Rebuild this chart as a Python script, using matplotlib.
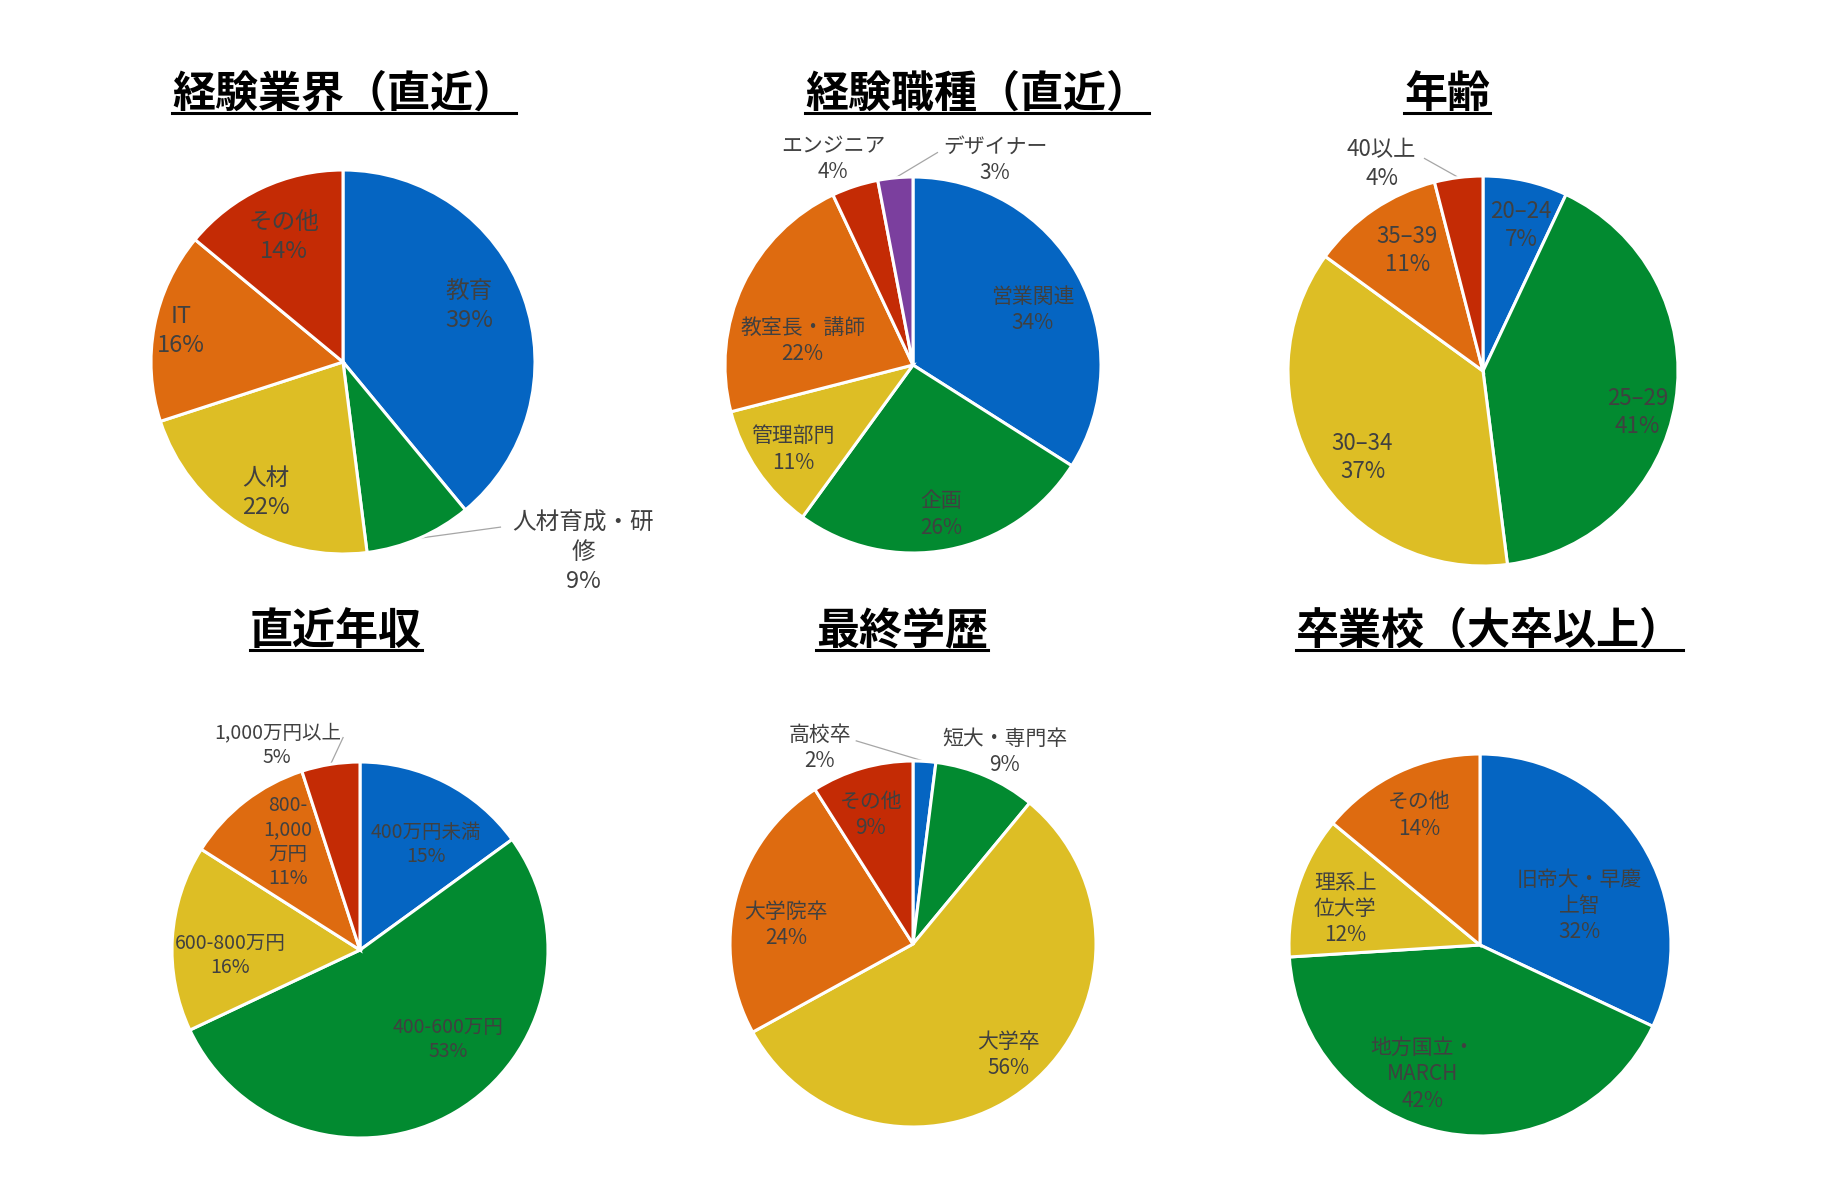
import numpy as np
import matplotlib
matplotlib.use("Agg")
from matplotlib import pyplot as plt

plt.rcParams['font.family'] = ['Noto Sans CJK JP', 'DejaVu Sans']

# ---- data ----
industry_labels = ['教育', '人材育成・研\n修', '人材', 'IT', 'その他']
industry_values = [39, 9, 22, 16, 14]

job_labels = ['営業関連', '企画', '管理部門', '教室長・講師', 'エンジニア', 'デザイナー']
job_values = [34, 26, 11, 22, 4, 3]

age_labels = ['20–24', '25–29', '30–34', '35–39', '40以上']
age_values = [7, 41, 37, 11, 4]

income_labels = ['400万円未満', '400-600万円', '600-800万円', '800-\n1,000\n万円', '1,000万円以上']
income_values = [15, 53, 16, 11, 5]

edu_labels = ['高校卒', '短大・専門卒', '大学卒', '大学院卒', 'その他']
edu_values = [2, 9, 56, 24, 9]

school_labels = ['旧帝大・早慶\n上智', '地方国立・\nMARCH', '理系上\n位大学', 'その他']
school_values = [32, 42, 12, 14]

titles = ['経験業界（直近）', '経験職種（直近）', '年齢', '直近年収', '最終学歴', '卒業校（大卒以上）']

# ---- style / layout ----
W, H = 1825, 1177
colors = ['#0565C2', '#028A30', '#DDBE25', '#DE6B10', '#C42B05', '#7B3F9E']
text_color = '#404040'

# pie centre x, y and radius in pixels (top-left origin)
pie_boxes = [(343, 362, 192), (913, 365, 188), (1483, 371, 195),
             (360, 950, 188), (913, 944, 183), (1480, 945, 191)]
title_pos = [(344, 107), (977, 107), (1447, 107), (336, 644), (902, 644), (1489, 644)]
label_sizes = [17, 15, 16, 14, 15, 15]
line_sp = [1.35, 1.25, 1.3, 1.2, 1.25, 1.25]

# ('in', radius, angle shift) or ('out', x, y, leader end or None)
placements = [
    [('in', 0.72, 4), ('out', 1.25, -0.99, (0.82, -0.86)), ('in', 0.79, 2),
     ('in', 0.86, 0), ('in', 0.72, 0)],
    [('in', 0.70, -4), ('in', 0.81, 0), ('in', 0.78, 1), ('in', 0.60, 13),
     ('out', -0.425, 1.096, None), ('out', 0.436, 1.09, (0.13, 1.13))],
    [('in', 0.77, -2), ('in', 0.82, -6), ('in', 0.76, 5), ('in', 0.73, -2),
     ('out', -0.52, 1.06, (-0.30, 1.09))],
    [('in', 0.66, -5), ('in', 0.67, 14), ('in', 0.69, 6), ('in', 0.69, -4),
     ('out', -0.44, 1.09, (-0.09, 1.13))],
    [('out', -0.51, 1.07, (-0.31, 1.11)), ('out', 0.50, 1.05, None), ('in', 0.80, 1),
     ('in', 0.70, 6), ('in', 0.74, 2)],
    [('in', 0.56, -11), ('in', 0.74, -13), ('in', 0.73, 3), ('in', 0.75, 0)],
]

all_labels = [industry_labels, job_labels, age_labels, income_labels, edu_labels, school_labels]
all_values = [industry_values, job_values, age_values, income_values, edu_values, school_values]

fig = plt.figure(figsize=(W / 100, H / 100), dpi=100)
fig.patch.set_facecolor('white')


def draw_pie(k):
    cx, cy, r = pie_boxes[k]
    ax = fig.add_axes([(cx - r) / W, (H - cy - r) / H, 2 * r / W, 2 * r / H])
    values = all_values[k]
    labels = all_labels[k]
    wedges, _ = ax.pie(values, colors=colors[:len(values)], startangle=90, counterclock=False,
                       radius=1.0, wedgeprops=dict(edgecolor='white', linewidth=2.2))
    ax.set_xlim(-1, 1)
    ax.set_ylim(-1, 1)
    ax.axis('off')

    for w, lab, v, p in zip(wedges, labels, values, placements[k]):
        mid = np.deg2rad((w.theta1 + w.theta2) / 2)
        txt = f"{lab}\n{v}%"
        if p[0] == 'in':
            ang = mid + np.deg2rad(p[2])
            x, y = p[1] * np.cos(ang), p[1] * np.sin(ang)
        else:
            x, y = p[1], p[2]
            if p[3] is not None:
                ax.plot([np.cos(mid), p[3][0]], [np.sin(mid), p[3][1]], color='#A6A6A6',
                        linewidth=0.9, clip_on=False, zorder=0)
        ax.text(x, y, txt, ha='center', va='center', fontsize=label_sizes[k],
                color=text_color, linespacing=line_sp[k], clip_on=False)


for k in range(6):
    draw_pie(k)

renderer = fig.canvas.get_renderer()
for k, t in enumerate(titles):
    tx, ty = title_pos[k]
    txt = fig.text(tx / W, 1 - ty / H, t, ha='center', va='baseline', fontsize=31,
                   fontweight='bold', color='black')
    bb = txt.get_window_extent(renderer)
    uy = 1 - (ty + 6) / H
    fig.add_artist(plt.Line2D([bb.x0 / W, bb.x1 / W], [uy, uy], color='black', linewidth=2.2))

fig.savefig('out.png', dpi=100, facecolor='white')
